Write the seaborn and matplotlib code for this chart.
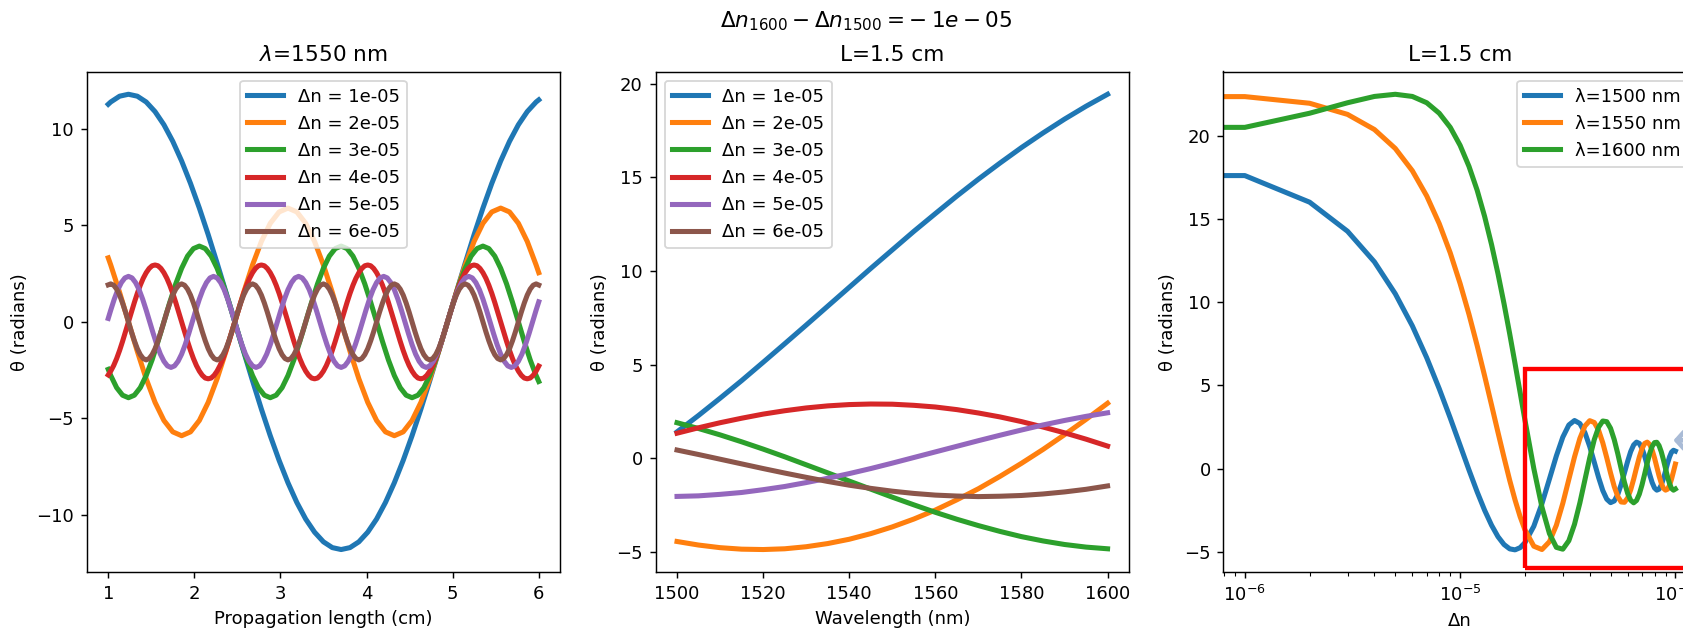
import matplotlib
matplotlib.use("Agg")
import matplotlib.pyplot as plt
import seaborn as sns
import numpy as np
from matplotlib.patches import Rectangle

# ---------------- Panel 1: theta vs propagation length (lambda = 1550 nm)
L_grid_b = [1.0, 1.0292, 1.1321, 1.2350, 1.3379, 1.4408, 1.5437, 1.6467, 1.7496, 1.8525,
            1.9554, 2.0583, 2.1612, 2.2642, 2.3671, 2.4700, 2.5729, 2.6758, 2.7787, 2.8816,
            2.9846, 3.0875, 3.1904, 3.2933, 3.3962, 3.4991, 3.6021, 3.7050, 3.8079, 3.9108,
            4.0137, 4.1166, 4.2196, 4.3225, 4.4254, 4.5283, 4.6312, 4.7341, 4.8370, 4.9400,
            5.0429, 5.1458, 5.2487, 5.3516, 5.4545, 5.5575, 5.6604, 5.7633, 5.8662, 5.9691, 6.0]
L_grid_c = [1.0, 1.0292, 1.0978, 1.1664, 1.2350, 1.3036, 1.3722, 1.4408, 1.5094, 1.5780,
            1.6467, 1.7153, 1.7839, 1.8525, 1.9211, 1.9897, 2.0583, 2.1269, 2.1956, 2.2642,
            2.3328, 2.4014, 2.4700, 2.5386, 2.6072, 2.6758, 2.7444, 2.8131, 2.8816, 2.9503,
            3.0189, 3.0875, 3.1561, 3.2247, 3.2933, 3.3619, 3.4305, 3.4991, 3.5678, 3.6364,
            3.7050, 3.7736, 3.8422, 3.9108, 3.9794, 4.0480, 4.1166, 4.1853, 4.2539, 4.3225,
            4.3911, 4.4597, 4.5283, 4.5969, 4.6655, 4.7341, 4.8028, 4.8714, 4.9400, 5.0086,
            5.0772, 5.1458, 5.2144, 5.2830, 5.3516, 5.4203, 5.4889, 5.5575, 5.6261, 5.6947,
            5.7633, 5.8319, 5.9005, 5.9691, 6.0]
L_grid_f = [1.0,
            1.0292, 1.0703, 1.1115, 1.1527, 1.1938, 1.2350, 1.2762, 1.3173, 1.3585, 1.3997,
            1.4408, 1.4820, 1.5232, 1.5643, 1.6055, 1.6467, 1.6878, 1.7290, 1.7702, 1.8113,
            1.8525, 1.8937, 1.9348, 1.9760, 2.0172, 2.0583, 2.0995, 2.1407, 2.1818, 2.2230,
            2.2642, 2.3053, 2.3465, 2.3877, 2.4288, 2.4700, 2.5112, 2.5523, 2.5935, 2.6346,
            2.6758, 2.7170, 2.7581, 2.7993, 2.8405, 2.8816, 2.9228, 2.9640, 3.0051, 3.0463,
            3.0875, 3.1286, 3.1698, 3.2110, 3.2521, 3.2933, 3.3345, 3.3756, 3.4168, 3.4580,
            3.4991, 3.5403, 3.5815, 3.6226, 3.6638, 3.7050, 3.7461, 3.7873, 3.8285, 3.8696,
            3.9108, 3.9520, 3.9931, 4.0343, 4.0755, 4.1166, 4.1578, 4.1990, 4.2401, 4.2813,
            4.3225, 4.3636, 4.4048, 4.4460, 4.4871, 4.5283, 4.5695, 4.6106, 4.6518, 4.6930,
            4.7341, 4.7753, 4.8165, 4.8576, 4.8988, 4.9400, 4.9811, 5.0223, 5.0635, 5.1046,
            5.1458, 5.1870, 5.2281, 5.2693, 5.3105, 5.3516, 5.3928, 5.4340, 5.4751, 5.5163,
            5.5575, 5.5986, 5.6398, 5.6810, 5.7221, 5.7633, 5.8045, 5.8456, 5.8868, 5.9280,
            5.9691,
            6.0]
L_grid_g = [1.0,
            1.0292, 1.0635, 1.0978, 1.1321, 1.1664, 1.2007, 1.2350, 1.2693, 1.3036, 1.3379,
            1.3722, 1.4065, 1.4408, 1.4751, 1.5094, 1.5437, 1.5780, 1.6124, 1.6467, 1.6810,
            1.7153, 1.7496, 1.7839, 1.8182, 1.8525, 1.8868, 1.9211, 1.9554, 1.9897, 2.0240,
            2.0583, 2.0926, 2.1269, 2.1612, 2.1956, 2.2299, 2.2642, 2.2985, 2.3328, 2.3671,
            2.4014, 2.4357, 2.4700, 2.5043, 2.5386, 2.5729, 2.6072, 2.6415, 2.6758, 2.7101,
            2.7444, 2.7787, 2.8130, 2.8474, 2.8817, 2.9160, 2.9503, 2.9846, 3.0189, 3.0532,
            3.0875, 3.1218, 3.1561, 3.1904, 3.2247, 3.2590, 3.2933, 3.3276, 3.3619, 3.3962,
            3.4305, 3.4649, 3.4992, 3.5335, 3.5678, 3.6021, 3.6364, 3.6707, 3.7050, 3.7393,
            3.7736, 3.8079, 3.8422, 3.8765, 3.9108, 3.9451, 3.9794, 4.0137, 4.0480, 4.0824,
            4.1167, 4.1510, 4.1853, 4.2196, 4.2539, 4.2882, 4.3225, 4.3568, 4.3911, 4.4254,
            4.4597, 4.4940, 4.5283, 4.5626, 4.5969, 4.6312, 4.6655, 4.6999, 4.7342, 4.7685,
            4.8028, 4.8371, 4.8714, 4.9057, 4.9400, 4.9743, 5.0086, 5.0429, 5.0772, 5.1115,
            5.1458, 5.1801, 5.2144, 5.2487, 5.2830, 5.3173, 5.3517, 5.3860, 5.4203, 5.4546,
            5.4889, 5.5232, 5.5575, 5.5918, 5.6261, 5.6604, 5.6947, 5.7290, 5.7633, 5.7976,
            5.8319, 5.8662, 5.9006, 5.9349, 5.9692,
            6.0]

theta_L_dn1 = [11.28,
               11.40, 11.70, 11.80, 11.70, 11.40, 10.90, 10.22, 9.36, 8.34, 7.18, 5.90, 4.52,
               3.05, 1.54, 0.00, -1.54, -3.05, -4.52, -5.90, -7.18, -8.34, -9.36, -10.22,
               -10.90, -11.40, -11.70, -11.80, -11.70, -11.40, -10.90, -10.22, -9.36, -8.34,
               -7.18, -5.90, -4.52, -3.05, -1.54, 0.00, 1.54, 3.05, 4.52, 5.90, 7.18, 8.34,
               9.36, 10.22, 10.90, 11.40,
               11.51]
theta_L_dn2 = [3.32,
               2.95, 1.53, 0.00, -1.53, -2.95, -4.17, -5.11, -5.70, -5.90, -5.70, -5.11, -4.17,
               -2.95, -1.53, 0.00, 1.53, 2.95, 4.17, 5.11, 5.70, 5.90, 5.70, 5.11, 4.17,
               2.95, 1.53, 0.00, -1.53, -2.95, -4.17, -5.11, -5.70, -5.90, -5.70, -5.11, -4.17,
               -2.95, -1.53, 0.00, 1.53, 2.95, 4.17, 5.11, 5.70, 5.90, 5.70, 5.11, 4.17,
               2.95,
               2.55]
theta_L_dn3 = [-2.46,
               -2.78, -3.41, -3.80, -3.93, -3.80, -3.41, -2.78, -1.97, -1.02, 0.00, 1.02, 1.97,
               2.78, 3.41, 3.80, 3.93, 3.80, 3.41, 2.78, 1.97, 1.02, 0.00, -1.02, -1.97,
               -2.78, -3.41, -3.80, -3.93, -3.80, -3.41, -2.78, -1.97, -1.02, 0.00, 1.02, 1.97,
               2.78, 3.41, 3.80, 3.93, 3.80, 3.41, 2.78, 1.97, 1.02, 0.00, -1.02, -1.97,
               -2.78, -3.41, -3.80, -3.93, -3.80, -3.41, -2.78, -1.97, -1.02, 0.00, 1.02, 1.97,
               2.78, 3.41, 3.80, 3.93, 3.80, 3.41, 2.78, 1.97, 1.02, 0.00, -1.02, -1.97,
               -2.78,
               -3.09]
theta_L_dn4 = [-2.75,
               -2.55, -2.26, -1.90, -1.48, -1.01, -0.51, 0.00, 0.51, 1.01, 1.48, 1.90, 2.26,
               2.55, 2.77, 2.91, 2.95, 2.91, 2.77, 2.55, 2.26, 1.90, 1.48, 1.01, 0.51,
               0.00, -0.51, -1.01, -1.48, -1.90, -2.26, -2.55, -2.77, -2.91, -2.95, -2.91, -2.77,
               -2.55, -2.26, -1.90, -1.48, -1.01, -0.51, 0.00, 0.51, 1.01, 1.48, 1.90, 2.26,
               2.55, 2.77, 2.91, 2.95, 2.91, 2.77, 2.55, 2.26, 1.90, 1.48, 1.01, 0.51,
               0.00, -0.51, -1.01, -1.48, -1.90, -2.26, -2.55, -2.77, -2.91, -2.95, -2.91, -2.77,
               -2.55, -2.26, -1.90, -1.48, -1.01, -0.51, 0.00, 0.51, 1.01, 1.48, 1.90, 2.26,
               2.55, 2.77, 2.91, 2.95, 2.91, 2.77, 2.55, 2.26, 1.90, 1.48, 1.01, 0.51,
               0.00, -0.51, -1.01, -1.48, -1.90, -2.26, -2.55, -2.77, -2.91, -2.95, -2.91, -2.77,
               -2.55, -2.26, -1.90, -1.48, -1.01, -0.51, 0.00, 0.51, 1.01, 1.48, 1.90, 2.26,
               2.55, 2.77, 2.91, 2.95, 2.91, 2.77, 2.55, 2.26, 1.90, 1.48, 1.01, 0.51,
               0.00, -0.51, -1.01, -1.48, -1.90, -2.26, -2.55, -2.77, -2.91, -2.95, -2.91, -2.77,
               -2.55,
               -2.29]
theta_L_dn5 = [0.18,
               0.61, 1.18, 1.67, 2.04, 2.28, 2.36, 2.28, 2.04, 1.67, 1.18, 0.61, 0.00,
               -0.61, -1.18, -1.67, -2.04, -2.28, -2.36, -2.28, -2.04, -1.67, -1.18, -0.61, 0.00,
               0.61, 1.18, 1.67, 2.04, 2.28, 2.36, 2.28, 2.04, 1.67, 1.18, 0.61, 0.00,
               -0.61, -1.18, -1.67, -2.04, -2.28, -2.36, -2.28, -2.04, -1.67, -1.18, -0.61, 0.00,
               0.61, 1.18, 1.67, 2.04, 2.28, 2.36, 2.28, 2.04, 1.67, 1.18, 0.61, 0.00,
               -0.61, -1.18, -1.67, -2.04, -2.28, -2.36, -2.28, -2.04, -1.67, -1.18, -0.61, 0.00,
               0.61, 1.18, 1.67, 2.04, 2.28, 2.36, 2.28, 2.04, 1.67, 1.18, 0.61, 0.00,
               -0.61, -1.18, -1.67, -2.04, -2.28, -2.36, -2.28, -2.04, -1.67, -1.18, -0.61, 0.00,
               0.61, 1.18, 1.67, 2.04, 2.28, 2.36, 2.28, 2.04, 1.67, 1.18, 0.61, 0.00,
               -0.61, -1.18, -1.67, -2.04, -2.28, -2.36, -2.28, -2.04, -1.67, -1.18, -0.61, 0.00,
               0.61,
               1.04]
theta_L_dn6 = [1.92,
               1.97, 1.90, 1.70, 1.39, 0.98, 0.51, 0.00, -0.51, -0.98, -1.39, -1.70, -1.90,
               -1.97, -1.90, -1.70, -1.39, -0.98, -0.51, 0.00, 0.51, 0.98, 1.39, 1.70, 1.90,
               1.97, 1.90, 1.70, 1.39, 0.98, 0.51, 0.00, -0.51, -0.98, -1.39, -1.70, -1.90,
               -1.97, -1.90, -1.70, -1.39, -0.98, -0.51, 0.00, 0.51, 0.98, 1.39, 1.70, 1.90,
               1.97, 1.90, 1.70, 1.39, 0.98, 0.51, 0.00, -0.51, -0.98, -1.39, -1.70, -1.90,
               -1.97, -1.90, -1.70, -1.39, -0.98, -0.51, 0.00, 0.51, 0.98, 1.39, 1.70, 1.90,
               1.97, 1.90, 1.70, 1.39, 0.98, 0.51, 0.00, -0.51, -0.98, -1.39, -1.70, -1.90,
               -1.97, -1.90, -1.70, -1.39, -0.98, -0.51, 0.00, 0.51, 0.98, 1.39, 1.70, 1.90,
               1.97, 1.90, 1.70, 1.39, 0.98, 0.51, 0.00, -0.51, -0.98, -1.39, -1.70, -1.90,
               -1.97, -1.90, -1.70, -1.39, -0.98, -0.51, 0.00, 0.51, 0.98, 1.39, 1.70, 1.90,
               1.97, 1.90, 1.70, 1.39, 0.98, 0.51, 0.00, -0.51, -0.98, -1.39, -1.70, -1.90,
               -1.97, -1.90, -1.70, -1.39, -0.98, -0.51, 0.00, 0.51, 0.98, 1.39, 1.70, 1.90,
               1.97,
               1.91]

dn_labels = ["Δn = 1e-05", "Δn = 2e-05", "Δn = 3e-05", "Δn = 4e-05", "Δn = 5e-05", "Δn = 6e-05"]

# ---------------- Panel 2: theta vs wavelength (L = 1.5 cm)
wavelengths = [1500, 1505, 1510, 1515, 1520, 1525, 1530, 1535, 1540, 1545, 1550,
               1555, 1560, 1565, 1570, 1575, 1580, 1585, 1590, 1595, 1600]
theta_wl_dn1 = [1.40, 2.28, 3.20, 4.14, 5.12, 6.11, 7.11, 8.12, 9.13, 10.14, 11.13,
                12.12, 13.07, 14.01, 14.91, 15.77, 16.60, 17.38, 18.12, 18.81, 19.45]
theta_wl_dn2 = [-4.46, -4.65, -4.79, -4.87, -4.89, -4.85, -4.74, -4.57, -4.34, -4.04, -3.68,
                -3.26, -2.78, -2.23, -1.64, -0.98, -0.28, 0.46, 1.25, 2.07, 2.93]
theta_wl_dn3 = [1.89, 1.58, 1.24, 0.87, 0.48, 0.07, -0.36, -0.79, -1.23, -1.66, -2.09,
                -2.50, -2.90, -3.27, -3.61, -3.92, -4.20, -4.43, -4.62, -4.76, -4.85]
theta_wl_dn4 = [1.33, 1.62, 1.89, 2.13, 2.35, 2.53, 2.68, 2.79, 2.86, 2.89, 2.88,
                2.82, 2.73, 2.59, 2.41, 2.20, 1.95, 1.66, 1.35, 1.01, 0.64]
theta_wl_dn5 = [-2.05, -2.02, -1.94, -1.84, -1.69, -1.52, -1.31, -1.08, -0.83, -0.56, -0.27,
                0.03, 0.33, 0.63, 0.93, 1.22, 1.50, 1.77, 2.01, 2.23, 2.42]
theta_wl_dn6 = [0.43, 0.19, -0.06, -0.31, -0.56, -0.80, -1.03, -1.25, -1.45, -1.62, -1.77,
                -1.89, -1.98, -2.03, -2.06, -2.04, -2.00, -1.92, -1.81, -1.67, -1.49]

# ---------------- Panel 3: theta vs delta n (L = 1.5 cm), delta n in units of 1e-5
dn_units = [0.0, 0.1, 0.2, 0.3, 0.4, 0.5, 0.6, 0.7, 0.8, 0.9, 1.0, 1.1, 1.2, 1.3, 1.4,
            1.5, 1.6, 1.7, 1.8, 1.9, 2.0, 2.2, 2.4, 2.6, 2.8, 3.0, 3.2, 3.4, 3.6, 3.8,
            4.0, 4.2, 4.4, 4.6, 4.8, 5.0, 5.2, 5.4, 5.6, 5.8, 6.0, 6.2, 6.4, 6.6, 6.8,
            7.0, 7.2, 7.4, 7.6, 7.8, 8.0, 8.2, 8.4, 8.6, 8.8, 9.0, 9.2, 9.4, 9.6, 9.8, 10.0]
theta_dn_1500 = [19.04, 17.62, 16.02, 14.27, 12.43, 10.51, 8.58, 6.66, 4.80, 3.04, 1.40,
                 -0.09, -1.40, -2.51, -3.41, -4.10, -4.57, -4.83, -4.89, -4.76, -4.46,
                 -3.47, -2.11, -0.63, 0.76, 1.89, 2.62, 2.89, 2.71, 2.16, 1.33, 0.38, -0.54,
                 -1.32, -1.84, -2.05, -1.95, -1.56, -0.96, -0.26, 0.43, 1.02, 1.42, 1.59,
                 1.51, 1.21, 0.75, 0.19, -0.36, -0.84, -1.17, -1.30, -1.24, -0.99, -0.61,
                 -0.15, 0.32, 0.71, 0.99, 1.10, 1.05]
theta_dn_1550 = [22.51, 22.37, 21.97, 21.30, 20.39, 19.25, 17.91, 16.39, 14.73, 12.97, 11.13,
                 9.27, 7.40, 5.57, 3.82, 2.17, 0.66, -0.71, -1.89, -2.89, -3.68,
                 -4.67, -4.87, -4.40, -3.41, -2.09, -0.65, 0.70, 1.81, 2.56, 2.88, 2.77, 2.30,
                 1.55, 0.65, -0.27, -1.08, -1.68, -2.01, -2.03, -1.77, -1.28, -0.64, 0.05,
                 0.69, 1.20, 1.51, 1.59, 1.45, 1.11, 0.64, 0.09, -0.44, -0.88, -1.18,
                 -1.30, -1.24, -1.00, -0.63, -0.18, 0.27]
theta_dn_1600 = [19.44, 20.52, 21.37, 22.00, 22.38, 22.51, 22.38, 22.00, 21.37, 20.52, 19.44,
                 18.17, 16.74, 15.16, 13.47, 11.71, 9.91, 8.10, 6.31, 4.58, 2.93,
                 0.00, -2.32, -3.91, -4.74, -4.85, -4.34, -3.35, -2.07, -0.68, 0.64, 1.74, 2.49,
                 2.86, 2.82, 2.42, 1.74, 0.90, 0.00, -0.83, -1.49, -1.91, -2.06, -1.92,
                 -1.54, -0.98, -0.33, 0.33, 0.91, 1.33, 1.56, 1.58, 1.38, 1.01, 0.53,
                 0.00, -0.51, -0.92, -1.20, -1.30, -1.23]
wl_labels = ["λ=1500 nm", "λ=1550 nm", "λ=1600 nm"]

suptitle_text = r"$\Delta n_{1600} - \Delta n_{1500} = -\:1e-05$"

# ---------------- Figure
W, H = 1683, 634
DPI = 130
fig = plt.figure(figsize=(W / DPI, H / DPI), dpi=DPI)
ax_w = 473.6 / W
ax_h = (572.3 - 71.5) / H
ax_y0 = (H - 572.3) / H
ax1 = fig.add_axes([86.7 / W, ax_y0, ax_w, ax_h])
ax2 = fig.add_axes([655.5 / W, ax_y0, ax_w, ax_h])
ax3 = fig.add_axes([1223.3 / W, ax_y0, ax_w, ax_h])

colors = sns.color_palette("tab10", 10)
LW = 2.8

p1_x = [L_grid_b, L_grid_b, L_grid_c, L_grid_g, L_grid_f, L_grid_g]
p1_y = [theta_L_dn1, theta_L_dn2, theta_L_dn3, theta_L_dn4, theta_L_dn5, theta_L_dn6]
for i, (xs, ys, lab) in enumerate(zip(p1_x, p1_y, dn_labels)):
    sns.lineplot(x=xs, y=ys, ax=ax1, color=colors[i], lw=LW, label=lab, estimator=None)
ax1.legend(loc="upper center")
ax1.set_title(r"$\lambda$=1550 nm")
ax1.set_xlabel("Propagation length (cm)")
ax1.set_ylabel("θ (radians)")

p2_y = [theta_wl_dn1, theta_wl_dn2, theta_wl_dn3, theta_wl_dn4, theta_wl_dn5, theta_wl_dn6]
for i, (ys, lab) in enumerate(zip(p2_y, dn_labels)):
    sns.lineplot(x=wavelengths, y=ys, ax=ax2, color=colors[i], lw=LW, label=lab, estimator=None)
ax2.legend(loc="upper left")
ax2.set_title("L=1.5 cm")
ax2.set_xlabel("Wavelength (nm)")
ax2.set_ylabel("θ (radians)")

dn_abs = np.array(dn_units) * 1e-5
p3_y = [theta_dn_1500, theta_dn_1550, theta_dn_1600]
for i, (ys, lab) in enumerate(zip(p3_y, wl_labels)):
    sns.lineplot(x=dn_abs, y=ys, ax=ax3, color=colors[i], lw=LW, label=lab, estimator=None)
ax3.set_xscale("log")
ax3.add_patch(Rectangle((2e-5, -6), 1.5e-4, 12, fill=False, edgecolor="red", lw=2.4, zorder=5))
ax3.annotate("", xy=(0.98e-4, 1.7), xytext=(2.0e-4, 1.7),
             arrowprops=dict(arrowstyle="->, head_length=0.4, head_width=0.45",
                             color="#a9bbd6", lw=2.6, mutation_scale=28, shrinkA=0, shrinkB=0),
             annotation_clip=False, zorder=10)
ax3.set_xlim(10 ** -6.1, 10 ** -3.9)
ax3.set_ylim(-6.24, 23.88)
ax3.legend(loc="upper right")
ax3.set_title("L=1.5 cm")
ax3.set_xlabel("Δn")
ax3.set_ylabel("θ (radians)")

fig.suptitle(suptitle_text, x=866 / W, y=0.985)

fig.savefig("out.png", dpi=DPI)
